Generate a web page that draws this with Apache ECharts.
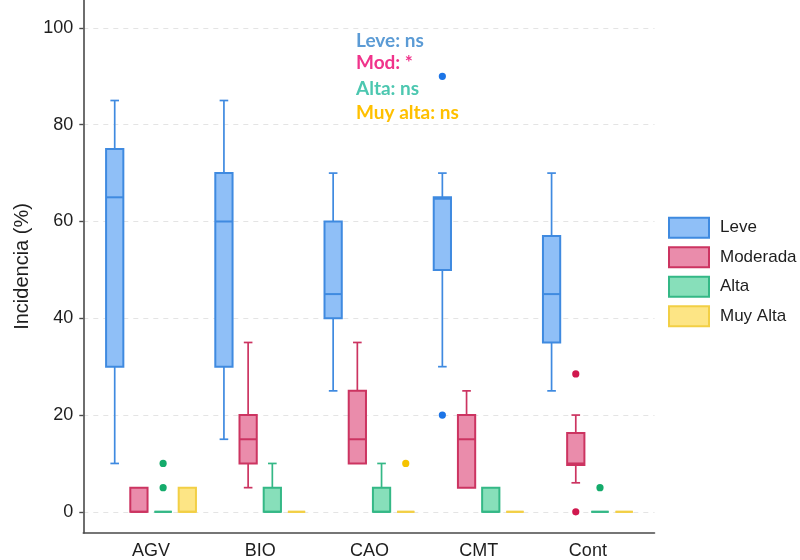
<!DOCTYPE html>
<html><head><meta charset="utf-8">
<script src="https://cdn.jsdelivr.net/npm/echarts@6/dist/echarts.min.js"></script>
<style>html,body{margin:0;padding:0;background:#fff}#c{width:800px;height:560px}</style>
</head><body><div id="c"></div>
<script>
// ---------- data ----------
const categories = ['AGV', 'BIO', 'CAO', 'CMT', 'Cont'];
const severities = ['Leve', 'Moderada', 'Alta', 'Muy Alta'];
// [min, Q1, median, Q3, max] for each category
const leveBoxes     = [[10, 30, 65, 75, 85], [15, 30, 60, 70, 85], [25, 40, 45, 60, 70], [30, 50, 64.7, 65, 70], [25, 35, 45, 57, 70]];
const moderadaBoxes = [[0, 0, 0, 5, 5], [5, 10, 15, 20, 35], [10, 10, 15, 25, 35], [5, 5, 15, 20, 25], [6, 9.7, 10, 16.3, 20]];
const altaBoxes     = [[0, 0, 0, 0, 0], [0, 0, 0, 5, 10], [0, 0, 0, 5, 10], [0, 0, 0, 5, 5], [0, 0, 0, 0, 0]];
const muyAltaBoxes  = [[0, 0, 0, 5, 5], [0, 0, 0, 0, 0], [0, 0, 0, 0, 0], [0, 0, 0, 0, 0], [0, 0, 0, 0, 0]];
// outliers: [category index, value]
const leveOutliers     = [[3, 90], [3, 20]];
const moderadaOutliers = [[4, 28.5], [4, 0]];
const altaOutliers     = [[0, 10], [0, 5], [4, 5]];
const muyAltaOutliers  = [[2, 10]];
const yTicks = [0, 20, 40, 60, 80, 100];
const annotations = ['Leve: ns', 'Mod: *', 'Alta: ns', 'Muy alta: ns'];

// ---------- styles ----------
const fills   = ['#8fbff7', '#ea8cab', '#87dfba', '#fde585'];
const strokes = ['#3f8ae0', '#cc3461', '#34b886', '#f2cf45'];
const dots    = ['#1c74e6', '#d0184e', '#14ab6b', '#f5c300'];
const annColors = ['#5b9bd5', '#f0338b', '#4cc7b0', '#ffc000'];
const DODGE = 0.2216, BOX_W = 0.158;

const boxSets = [leveBoxes, moderadaBoxes, altaBoxes, muyAltaBoxes];
const outSets = [leveOutliers, moderadaOutliers, altaOutliers, muyAltaOutliers];

function boxRenderer(k) {
  const off = (k - 1.5) * DODGE;
  return function (params, api) {
    const x = api.value(0) + off;
    const lo = api.coord([x, api.value(1)]);
    const q1 = api.coord([x, api.value(2)]);
    const md = api.coord([x, api.value(3)]);
    const q3 = api.coord([x, api.value(4)]);
    const hi = api.coord([x, api.value(5)]);
    const hw = api.size([BOX_W, 0])[0] / 2;
    const cw = hw / 2;
    const ch = [];
    const ws = { stroke: strokes[k], lineWidth: 1.7 };
    if (api.value(5) > api.value(4)) {
      ch.push({ type: 'line', shape: { x1: hi[0], y1: hi[1], x2: q3[0], y2: q3[1] }, style: ws });
      ch.push({ type: 'line', shape: { x1: hi[0] - cw, y1: hi[1], x2: hi[0] + cw, y2: hi[1] }, style: ws });
    }
    if (api.value(1) < api.value(2)) {
      ch.push({ type: 'line', shape: { x1: lo[0], y1: lo[1], x2: q1[0], y2: q1[1] }, style: ws });
      ch.push({ type: 'line', shape: { x1: lo[0] - cw, y1: lo[1], x2: lo[0] + cw, y2: lo[1] }, style: ws });
    }
    ch.push({ type: 'rect', shape: { x: q3[0] - hw, y: q3[1], width: hw * 2, height: q1[1] - q3[1] },
      style: { fill: fills[k], stroke: strokes[k], lineWidth: 2 } });
    ch.push({ type: 'line', shape: { x1: md[0] - hw, y1: md[1], x2: md[0] + hw, y2: md[1] },
      style: { stroke: strokes[k], lineWidth: 2 } });
    return { type: 'group', children: ch };
  };
}
function outRenderer(k) {
  const off = (k - 1.5) * DODGE;
  return function (params, api) {
    const p = api.coord([api.value(0) + off, api.value(1)]);
    return { type: 'circle', shape: { cx: p[0], cy: p[1], r: 3.6 }, style: { fill: dots[k] } };
  };
}

const series = [];
severities.forEach(function (name, k) {
  series.push({
    name: name, type: 'custom', renderItem: boxRenderer(k),
    itemStyle: { color: fills[k], borderColor: strokes[k] },
    encode: { x: 0, y: [1, 2, 3, 4, 5] },
    data: boxSets[k].map(function (b, i) { return [i].concat(b); }),
    z: 3
  });
});
severities.forEach(function (name, k) {
  series.push({
    name: name, type: 'custom', renderItem: outRenderer(k),
    itemStyle: { color: fills[k] },
    encode: { x: 0, y: 1 },
    data: outSets[k],
    z: 4
  });
});

const chart = echarts.init(document.getElementById('c'), null, { renderer: 'canvas' });
chart.setOption({
  animation: false,
  backgroundColor: '#ffffff',
  textStyle: { fontFamily: 'Liberation Sans, Arial, sans-serif' },
  grid: { left: 83.3, right: 145.5, top: 0, bottom: 25.5, containLabel: false },
  xAxis: {
    type: 'value', min: -0.62, max: 4.61,
    axisLine: { show: true, onZero: false, lineStyle: { color: '#4a4a4a', width: 1.6 } },
    axisTick: { show: false },
    splitLine: { show: false },
    axisLabel: {
      customValues: [0, 1, 2, 3, 4],
      formatter: function (v) { return categories[Math.round(v)]; },
      fontSize: 18, color: '#1e1e1e', margin: 9
    }
  },
  yAxis: {
    type: 'value', min: -4.37, max: 105.77,
    name: 'Incidencia (%)', nameLocation: 'middle', nameGap: 51,
    nameTextStyle: { fontSize: 20, color: '#1e1e1e' },
    axisLine: { show: true, onZero: false, lineStyle: { color: '#4a4a4a', width: 1.6 } },
    axisTick: { show: true, length: 4, customValues: yTicks, lineStyle: { color: '#4a4a4a', width: 1.4 } },
    axisLabel: { customValues: yTicks, fontSize: 18, color: '#1e1e1e', margin: 10 },
    splitLine: { show: true, lineStyle: { color: '#e4e4e4', width: 1, type: [5, 5] } }
  },
  legend: {
    left: 668, top: 216.7, orient: 'vertical', padding: 0,
    itemWidth: 40, itemHeight: 20, itemGap: 7.5,
    textStyle: { fontSize: 17, color: '#1e1e1e', lineHeight: 20, padding: [0, 0, 0, 6] },
    data: severities.map(function (n, k) {
      return { name: n, icon: 'rect', itemStyle: { color: fills[k], borderColor: strokes[k], borderWidth: 2 } };
    })
  },
  graphic: annotations.map(function (t, k) {
    return {
      type: 'text', x: 356, y: [41, 63, 89, 113][k], z: 10,
      style: { text: t, fill: annColors[k], fontFamily: 'Lato', fontWeight: 'bold', fontSize: 19,
        textAlign: 'left', textVerticalAlign: 'middle', verticalAlign: 'middle' }
    };
  }),
  series: series
});
</script></body></html>
